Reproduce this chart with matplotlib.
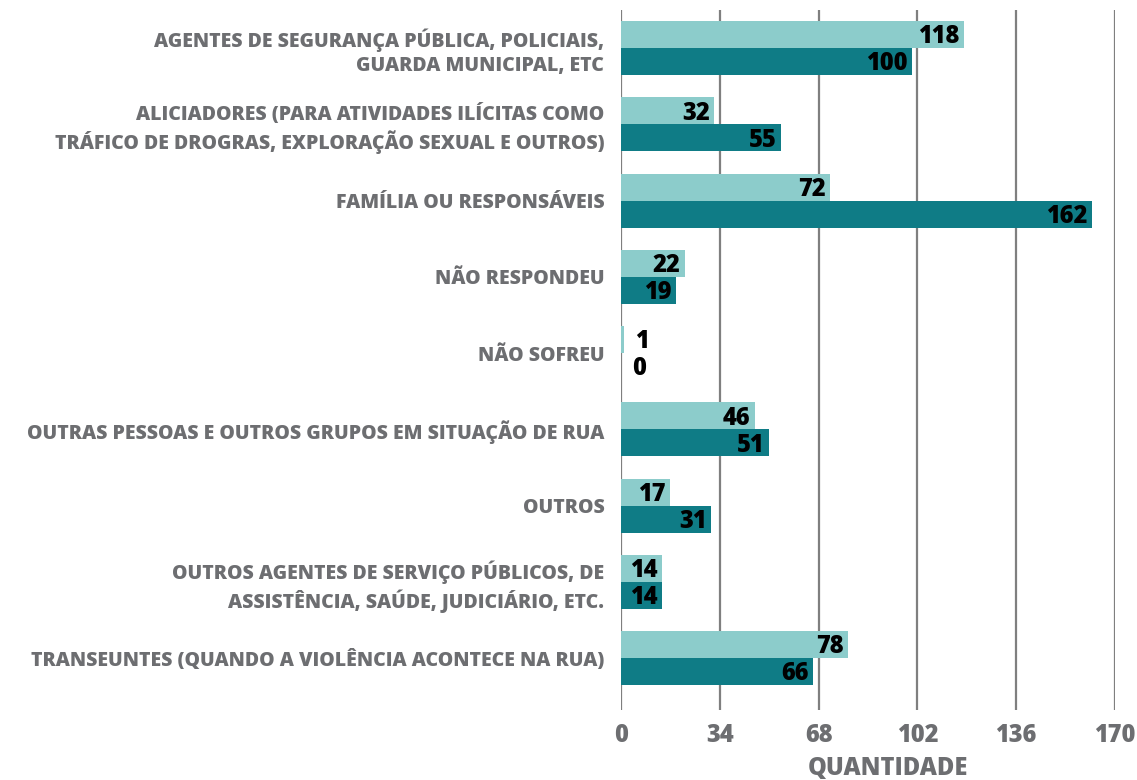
import matplotlib
matplotlib.use("Agg")
import matplotlib.pyplot as plt
import numpy as np

plt.rcParams['font.family'] = ['Open Sans', 'DejaVu Sans']

categorias = [
    "AGENTES DE SEGURANÇA PÚBLICA, POLICIAIS,\nGUARDA MUNICIPAL, ETC",
    "ALICIADORES (PARA ATIVIDADES ILÍCITAS COMO\nTRÁFICO DE DROGRAS, EXPLORAÇÃO SEXUAL E OUTROS)",
    "FAMÍLIA OU RESPONSÁVEIS",
    "NÃO RESPONDEU",
    "NÃO SOFREU",
    "OUTRAS PESSOAS E OUTROS GRUPOS EM SITUAÇÃO DE RUA",
    "OUTROS",
    "OUTROS AGENTES DE SERVIÇO PÚBLICOS, DE\nASSISTÊNCIA, SAÚDE, JUDICIÁRIO, ETC.",
    "TRANSEUNTES (QUANDO A VIOLÊNCIA ACONTECE NA RUA)",
]
serie_clara = [118, 32, 72, 22, 1, 46, 17, 14, 78]
serie_escura = [100, 55, 162, 19, 0, 51, 31, 14, 66]
ticks = [0, 34, 68, 102, 136, 170]

cor_clara = "#8ccccb"
cor_escura = "#0f7c86"
cinza = "#6d6e71"
peso = 800

fig = plt.figure(figsize=(11.37, 7.80), dpi=100)
ax = fig.add_axes([621/1137, 1 - 710/780, (1115-621)/1137, 700/780])

y = np.arange(len(categorias))
h = 0.355
ax.barh(y - h/2, serie_clara, height=h, color=cor_clara, zorder=3)
ax.barh(y + h/2, serie_escura, height=h, color=cor_escura, zorder=3)

for yy, vals in [(y - h/2, serie_clara), (y + h/2, serie_escura)]:
    for pos, v in zip(yy, vals):
        if v < 6:
            ax.text(v + 4, pos + 0.03, str(v), ha='left', va='center', fontsize=17,
                    fontweight=peso, color='black', zorder=4)
        else:
            ax.text(v - 1.5, pos + 0.03, str(v), ha='right', va='center', fontsize=17,
                    fontweight=peso, color='black', zorder=4)

ax.set_xlim(0, 170)
ax.set_ylim(len(categorias) - 1 + 0.68, -0.5)
ax.set_xticks(ticks)
ax.set_xticklabels([str(t) for t in ticks], fontsize=17, fontweight=peso, color=cinza)
ax.set_yticks(y)
ax.set_yticklabels(categorias, fontsize=14, fontweight=peso, color=cinza, linespacing=1.25)
ax.tick_params(axis='y', length=0, pad=12)
ax.tick_params(axis='x', length=0, pad=9)
ax.xaxis.grid(True, color='#7f7f7f', linewidth=1.6, zorder=0)
for s in ax.spines.values():
    s.set_visible(False)

ax.set_xlabel("QUANTIDADE", fontsize=17, fontweight=peso, color=cinza)
ax.xaxis.set_label_coords(0.54, -0.066)

plt.savefig("out.png", dpi=100)
